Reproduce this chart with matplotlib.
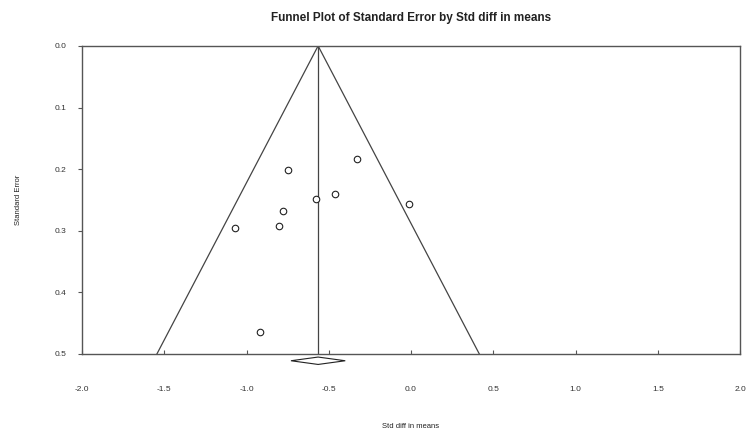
import matplotlib.pyplot as plt
import numpy as np

# study effects (std diff in means) and their standard errors
std_diff = [-0.75, -0.33, -0.58, -0.46, -0.01, -0.78, -0.80, -1.07, -0.92]
std_err = [0.202, 0.184, 0.248, 0.240, 0.257, 0.268, 0.293, 0.296, 0.464]
mean_effect = -0.565
ci_low = -0.73
ci_high = -0.40
x_ticks = [-2.0, -1.5, -1.0, -0.5, 0.0, 0.5, 1.0, 1.5, 2.0]
y_ticks = [0.0, 0.1, 0.2, 0.3, 0.4, 0.5]

plt.rcParams['font.family'] = ['Liberation Sans', 'DejaVu Sans']

fig = plt.figure(figsize=(7.46, 4.37), dpi=100)
ax = fig.add_axes([0.110, 0.190, 0.882, 0.705])

se_max = 0.5
se = np.array([0.0, se_max])
ax.plot(mean_effect - 1.96 * se, se, color='#444444', lw=0.9)
ax.plot(mean_effect + 1.96 * se, se, color='#444444', lw=0.9)
ax.plot([mean_effect, mean_effect], [0, se_max], color='#444444', lw=0.9)

ax.scatter(std_diff, std_err, s=22, facecolors='white', edgecolors='#222222',
           linewidths=0.8, zorder=3)

# summary diamond just below the axis
dy = 0.006
yc = se_max + 0.011
ax.fill([ci_low, mean_effect, ci_high, mean_effect],
        [yc, yc - dy, yc, yc + dy],
        facecolor='white', edgecolor='#222222', lw=0.8, clip_on=False, zorder=4)

ax.set_xlim(-2.0, 2.0)
ax.set_ylim(0.5, 0.0)
ax.set_xticks(x_ticks)
ax.set_yticks(y_ticks)
ax.set_xticklabels([f'{v:.1f}' for v in x_ticks])
ax.set_yticklabels([f'{v:.1f}' for v in y_ticks])
ax.tick_params(axis='x', direction='in', length=3, pad=23, labelsize=6,
               colors='#555555', labelcolor='#333333')
ax.tick_params(axis='y', direction='out', length=3, pad=8, labelsize=6,
               colors='#555555', labelcolor='#333333')
for s in ax.spines.values():
    s.set_color('#555555')
    s.set_linewidth(1.0)

ax.set_xlabel('Std diff in means', fontsize=5.5, labelpad=22, color='#222222')
ax.set_ylabel('Standard Error', fontsize=5.5, labelpad=24, color='#222222')
ax.set_title('Funnel Plot of Standard Error by Std diff in means', fontsize=8.5,
             fontweight='bold', pad=18, color='#222222')

fig.savefig('out.png', dpi=100)
